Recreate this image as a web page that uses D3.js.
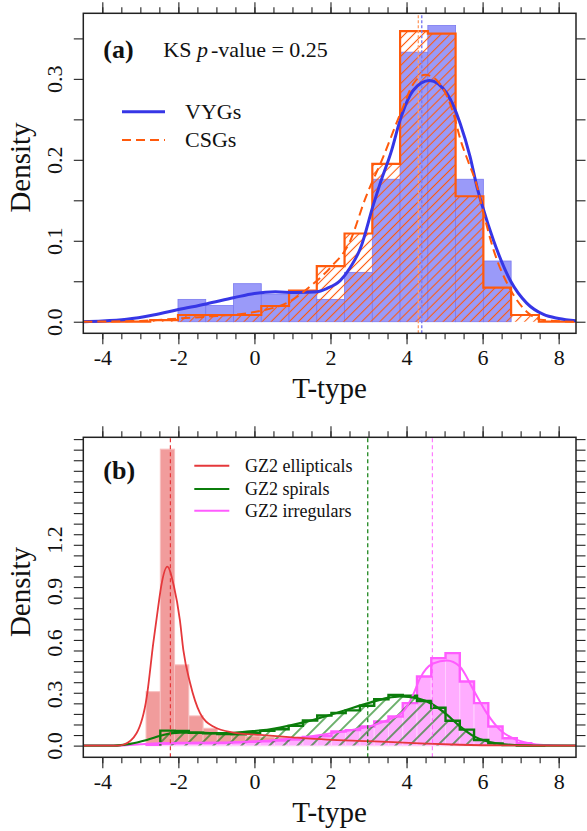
<!DOCTYPE html>
<html>
<head>
<meta charset="utf-8">
<script src="https://cdn.jsdelivr.net/npm/d3@7"></script>
<style>
  body { margin: 0; background: #fff; }
  svg text { font-family: "Liberation Serif", "Times New Roman", serif !important; fill: #111; }
</style>
</head>
<body>
<svg id="fig" width="587" height="831"></svg>
<script>
// ---------------- data ----------------
const tMajor = [-4, -2, 0, 2, 4, 6, 8];
const tMinor = d3.range(-4, 8.01, 0.5);

// Panel (a): VYGs vs CSGs
const binsA   = [-2.74, -2.01, -1.28, -0.55, 0.18, 0.91, 1.64, 2.37, 3.10, 3.83, 4.56, 5.29, 6.02, 6.75, 7.48];
const vygHist = [0, 0.0276, 0.020, 0.047, 0.034, 0.035, 0.0276, 0.061, 0.176, 0.333, 0.366, 0.176, 0.075, 0];
const csgHist = [0.002, 0.0083, 0.0083, 0.0083, 0.0194, 0.0383, 0.0688, 0.109, 0.195, 0.359, 0.356, 0.155, 0.042, 0.0083];
const vygKdeT = [-4.5, -4.0, -3.36, -2.66, -2.0, -1.27, -0.55, 0.0, 0.55, 1.07, 1.64, 1.9, 2.26, 2.52, 2.79, 3.13, 3.3, 3.61, 3.83, 4.18, 4.6, 5.06, 5.41, 5.67, 5.85, 6.0, 6.29, 6.74, 7.16, 7.6, 8.0, 8.5];
const vygKdeD = [0.0, 0.0008, 0.003, 0.0083, 0.015, 0.022, 0.0296, 0.035, 0.037, 0.036, 0.037, 0.041, 0.051, 0.067, 0.091, 0.145, 0.17, 0.212, 0.249, 0.286, 0.298, 0.282, 0.245, 0.204, 0.167, 0.142, 0.1, 0.05, 0.023, 0.009, 0.004, 0.001];
const csgKdeT = [-4.5, -3.0, -2.0, -1.0, 0.0, 1.0, 1.5, 2.0, 2.5, 2.93, 3.39, 3.87, 4.18, 4.49, 4.8, 5.2, 5.45, 5.62, 5.85, 6.02, 6.29, 6.74, 7.16, 7.6, 8.5];
const csgKdeD = [0.0, 0.001, 0.004, 0.007, 0.012, 0.027, 0.045, 0.067, 0.098, 0.154, 0.204, 0.261, 0.294, 0.305, 0.298, 0.262, 0.22, 0.198, 0.168, 0.135, 0.0885, 0.039, 0.0124, 0.002, 0.0];
const vygCentre = 4.40;
const csgCentre = 4.31;
const ksText = "0.25";

// Panel (b): Galaxy Zoo 2 classes
const binsB   = [-2.85, -2.475, -2.1, -1.725, -1.35, -0.975, -0.6, -0.225, 0.15, 0.525, 0.9, 1.275, 1.65, 2.025, 2.4, 2.775, 3.15, 3.525, 3.9, 4.275, 4.65, 5.025, 5.4, 5.775, 6.15, 6.525, 6.9, 7.275, 7.65];
const ellHist = [0.314, 1.725, 0.470, 0.173, 0.101, 0.075, 0.06, 0.055, 0.05, 0.045, 0.04, 0.04, 0.035, 0.03, 0.03, 0.025, 0.02, 0.02, 0.015, 0.01, 0.01, 0.005, 0.003, 0, 0, 0, 0, 0];
const spiHist = [0, 0.087, 0.085, 0.075, 0.072, 0.068, 0.066, 0.072, 0.086, 0.095, 0.115, 0.146, 0.175, 0.19, 0.205, 0.232, 0.27, 0.295, 0.29, 0.26, 0.22, 0.145, 0.093, 0.033, 0.013, 0.003, 0, 0];
const irrHist = [0.005, 0.012, 0.015, 0.015, 0.015, 0.016, 0.02, 0.022, 0.025, 0.03, 0.035, 0.05, 0.055, 0.082, 0.09, 0.111, 0.14, 0.169, 0.247, 0.402, 0.509, 0.538, 0.373, 0.247, 0.111, 0.043, 0.014, 0.003];
const ellKdeT = [-4.5, -3.6, -3.45, -3.1, -2.83, -2.66, -2.53, -2.45, -2.29, -2.12, -1.96, -1.87, -1.69, -1.43, -1.08, -0.555, 0.15, 1.0, 1.9, 3.0, 3.65, 4.5, 5.4, 6.5, 8.5];
const ellKdeD = [0, 0, 0.005, 0.072, 0.285, 0.596, 0.809, 0.93, 1.042, 0.93, 0.73, 0.557, 0.363, 0.189, 0.111, 0.076, 0.062, 0.048, 0.035, 0.026, 0.02, 0.012, 0.005, 0.001, 0];
const spiKdeT = [-4.5, -3.7, -3.27, -2.83, -2.4, -1.96, -1.5, -1.08, -0.6, -0.2, 0.41, 0.67, 1.29, 2.16, 3.04, 3.5, 3.83, 4.27, 4.7, 5.06, 5.4, 5.76, 6.11, 6.46, 6.9, 7.5, 8.5];
const spiKdeD = [0, 0, 0.01, 0.033, 0.062, 0.076, 0.075, 0.072, 0.073, 0.081, 0.095, 0.105, 0.135, 0.19, 0.25, 0.278, 0.287, 0.276, 0.238, 0.18, 0.113, 0.055, 0.025, 0.01, 0.003, 0, 0];
const irrKdeT = [-4.5, -3.5, -3.0, -2.5, -1.5, -0.5, 0.41, 1.29, 2.03, 2.6, 3.15, 3.52, 3.92, 4.18, 4.35, 4.7, 5.06, 5.4, 5.76, 6.11, 6.46, 6.9, 7.33, 7.72, 8.5];
const irrKdeD = [0, 0, 0.008, 0.014, 0.016, 0.02, 0.03, 0.049, 0.072, 0.093, 0.12, 0.15, 0.2, 0.3, 0.39, 0.478, 0.495, 0.46, 0.324, 0.189, 0.091, 0.033, 0.01, 0.003, 0];
const ellCentre = -2.21;
const spiCentre = 2.98;
const irrCentre = 4.68;
const legendB = ["GZ2 ellipticals", "GZ2 spirals", "GZ2 irregulars"];

// ---------------- styles ----------------
const SERIF = '"Liberation Serif", "Times New Roman", serif';
const C = {
  blueFill: "#9a9af9", blueEdge: "#7a7af0", blueLine: "#3636e6", blueV: "#7b7bf2",
  orange: "#ff5a0c", orangeV: "#ff9f6a",
  redFill: "#f19c9c", redEdge: "#f7c0c0", red: "#e5383b",
  green: "#0b7d0b",
  magFill: "#ffacff", magEdge: "#ffd0ff", mag: "#ff5cff"
};

const svg = d3.select("#fig").style("font-family", SERIF);
const defs = svg.append("defs");

function hatch(id, color, spacing, width) {
  defs.append("pattern")
    .attr("id", id)
    .attr("patternUnits", "userSpaceOnUse")
    .attr("width", spacing).attr("height", 20)
    .attr("patternTransform", "rotate(45)")
    .append("line")
    .attr("x1", spacing / 2).attr("x2", spacing / 2)
    .attr("y1", 0).attr("y2", 20)
    .attr("stroke", color).attr("stroke-width", width);
}
hatch("hatchOrange", C.orange, 6.4, 1.1);
hatch("hatchGreen", C.green, 9.9, 1.2);

const box = { left: 83.3, right: 576 };
const panels = {
  a: { top: 13.3, bottom: 333.3, yDomain: [-0.0143, 0.381] },
  b: { top: 437.3, bottom: 757.3, yDomain: [-0.068, 1.794] }
};

const x = d3.scaleLinear().domain([-4.5, 8.456]).range([box.left, box.right]);

function makeY(p) {
  return d3.scaleLinear().domain(p.yDomain).range([p.bottom, p.top]);
}

function clipFor(id, p) {
  defs.append("clipPath").attr("id", id)
    .append("rect")
    .attr("x", box.left).attr("y", p.top)
    .attr("width", box.right - box.left).attr("height", p.bottom - p.top);
}

// histogram bars as rectangles
function bars(g, y, edges, vals, fill, stroke, sw) {
  g.append("g").selectAll("rect")
    .data(vals.map((v, i) => ({ x0: edges[i], x1: edges[i + 1], v })).filter(d => d.v > 0))
    .join("rect")
    .attr("x", d => x(d.x0))
    .attr("width", d => x(d.x1) - x(d.x0))
    .attr("y", d => y(d.v))
    .attr("height", d => y(0) - y(d.v))
    .attr("fill", fill)
    .attr("stroke", stroke || "none")
    .attr("stroke-width", sw || 0);
}

// outer outline of a histogram as a single step path
function stepPath(y, edges, vals, extendFrom, extendTo) {
  const p = d3.path();
  if (extendFrom !== undefined) { p.moveTo(x(extendFrom), y(0)); p.lineTo(x(edges[0]), y(0)); }
  else p.moveTo(x(edges[0]), y(0));
  vals.forEach((v, i) => {
    p.lineTo(x(edges[i]), y(v));
    p.lineTo(x(edges[i + 1]), y(v));
  });
  p.lineTo(x(edges[edges.length - 1]), y(0));
  if (extendTo !== undefined) p.lineTo(x(extendTo), y(0));
  return p.toString();
}

function curve(g, y, ts, ds, color, width, dash) {
  const line = d3.line()
    .x((d, i) => x(ts[i]))
    .y((d, i) => y(ds[i]))
    .curve(d3.curveMonotoneX);
  g.append("path")
    .attr("d", line(ts))
    .attr("fill", "none")
    .attr("stroke", color)
    .attr("stroke-width", width)
    .attr("stroke-linejoin", "round")
    .attr("stroke-dasharray", dash || null);
}

function vline(g, y, t, color, width, dash, opacity) {
  g.append("line")
    .attr("x1", x(t)).attr("x2", x(t))
    .attr("y1", y.range()[0]).attr("y2", y.range()[1])
    .attr("stroke", color).attr("stroke-width", width)
    .attr("stroke-dasharray", dash).attr("opacity", opacity || 1);
}

function axes(p, y, yMajor, yMinor, fmt) {
  const g = svg.append("g");
  const strip = a => a.call(s => s.select(".domain").remove())
                       .call(s => s.selectAll("line").attr("stroke", "#222").attr("stroke-width", 1.1));
  const serif = s => s.attr("font-family", SERIF).style("font-family", SERIF);
  // bottom
  g.append("g").attr("transform", `translate(0,${p.bottom})`)
    .call(d3.axisBottom(x).tickValues(tMinor).tickSize(6).tickFormat("")).call(strip);
  const xb = g.append("g").attr("transform", `translate(0,${p.bottom})`)
    .call(d3.axisBottom(x).tickValues(tMajor).tickSize(11).tickPadding(5).tickFormat(d => String(d))).call(strip);
  xb.call(serif);
  xb.selectAll("text").attr("font-size", 22).style("font-family", SERIF).attr("fill", "#111");
  // top
  g.append("g").attr("transform", `translate(0,${p.top})`)
    .call(d3.axisTop(x).tickValues(tMinor).tickSize(6).tickFormat("")).call(strip);
  g.append("g").attr("transform", `translate(0,${p.top})`)
    .call(d3.axisTop(x).tickValues(tMajor).tickSize(11).tickFormat("")).call(strip);
  // left
  g.append("g").attr("transform", `translate(${box.left},0)`)
    .call(d3.axisLeft(y).tickValues(yMinor).tickSize(9.5).tickFormat("")).call(strip);
  const yl = g.append("g").attr("transform", `translate(${box.left},0)`)
    .call(d3.axisLeft(y).tickValues(yMajor).tickSize(0).tickFormat(fmt)).call(strip);
  yl.call(serif);
  yl.selectAll("text")
    .attr("font-size", 22).style("font-family", SERIF).attr("fill", "#111")
    .attr("text-anchor", "middle").attr("x", null).attr("dy", null)
    .attr("transform", "translate(-21.8,0) rotate(-90)");
  // right
  g.append("g").attr("transform", `translate(${box.right},0)`)
    .call(d3.axisRight(y).tickValues(yMinor).tickSize(9.5).tickFormat("")).call(strip);
  // frame
  g.append("rect")
    .attr("x", box.left).attr("y", p.top)
    .attr("width", box.right - box.left).attr("height", p.bottom - p.top)
    .attr("fill", "none").attr("stroke", "#222").attr("stroke-width", 1.5);
  return g;
}

function titles(p, yLabelCentre) {
  svg.append("text")
    .attr("x", (box.left + box.right) / 2).attr("y", p.bottom + 65)
    .attr("text-anchor", "middle").attr("font-size", 29).text("T-type");
  svg.append("text")
    .attr("transform", `translate(30,${yLabelCentre}) rotate(-90)`)
    .attr("text-anchor", "middle").attr("font-size", 29).text("Density");
}

// ---------------- panel (a) ----------------
{
  const p = panels.a;
  const y = makeY(p);
  clipFor("clipA", p);
  const g = svg.append("g").attr("clip-path", "url(#clipA)");

  bars(g, y, binsA, vygHist, C.blueFill, C.blueEdge, 0.8);
  // CSG hatched histogram
  g.append("path").attr("d", stepPath(y, binsA, csgHist)).attr("fill", "url(#hatchOrange)");
  g.append("path").attr("d", stepPath(y, binsA, csgHist, -4.5, 8.5))
    .attr("fill", "none").attr("stroke", C.orange).attr("stroke-width", 2.2).attr("stroke-linejoin", "miter");

  vline(g, y, csgCentre, C.orangeV, 1.4, "3,2");
  vline(g, y, vygCentre, C.blueV, 1.4, "3,2");

  curve(g, y, vygKdeT, vygKdeD, C.blueLine, 3);
  curve(g, y, csgKdeT, csgKdeD, C.orange, 2, "9,5");

  const fmt = d3.format(".1f");
  axes(p, y, [0, 0.1, 0.2, 0.3], d3.range(0, 0.351, 0.05), fmt);
  titles(p, 167.5);

  svg.append("text").attr("x", 103.3).attr("y", 57.5)
    .attr("font-size", 26).attr("font-weight", "bold").text("(a)");
  const ks = svg.append("text").attr("x", 163.3).attr("y", 57.3).attr("font-size", 22);
  ks.append("tspan").text("KS ");
  ks.append("tspan").attr("font-style", "italic").text("p");
  ks.append("tspan").attr("dx", 3).text("-value = " + ksText);

  // legend
  const lg = svg.append("g");
  lg.append("line").attr("x1", 122).attr("x2", 165).attr("y1", 111.7).attr("y2", 111.7)
    .attr("stroke", C.blueLine).attr("stroke-width", 3);
  lg.append("text").attr("x", 185).attr("y", 118.8).attr("font-size", 22).text("VYGs");
  lg.append("line").attr("x1", 122).attr("x2", 165).attr("y1", 140).attr("y2", 140)
    .attr("stroke", C.orange).attr("stroke-width", 2).attr("stroke-dasharray", "9,5");
  lg.append("text").attr("x", 185).attr("y", 147).attr("font-size", 22).text("CSGs");
}

// ---------------- panel (b) ----------------
{
  const p = panels.b;
  const y = makeY(p);
  clipFor("clipB", p);
  const g = svg.append("g").attr("clip-path", "url(#clipB)");

  bars(g, y, binsB, ellHist, C.redFill, C.redEdge, 1);
  bars(g, y, binsB, irrHist, C.magFill, C.magEdge, 1);
  g.append("path").attr("d", stepPath(y, binsB, irrHist))
    .attr("fill", "none").attr("stroke", C.mag).attr("stroke-width", 2.4);
  g.append("path").attr("d", stepPath(y, binsB.slice(1), spiHist.slice(1))).attr("fill", "url(#hatchGreen)");
  g.append("path").attr("d", stepPath(y, binsB.slice(1), spiHist.slice(1)))
    .attr("fill", "none").attr("stroke", C.green).attr("stroke-width", 2.4);

  curve(g, y, irrKdeT, irrKdeD, C.mag, 2);
  curve(g, y, spiKdeT, spiKdeD, C.green, 2.2);
  curve(g, y, ellKdeT, ellKdeD, C.red, 1.8);

  vline(g, y, ellCentre, C.red, 1.2, "4,3");
  vline(g, y, spiCentre, C.green, 1.2, "4,3");
  vline(g, y, irrCentre, C.mag, 1.2, "4,3", 0.8);

  axes(p, y, [0, 0.3, 0.6, 0.9, 1.2], d3.range(0, 1.79, 0.0615), d3.format(".1f"));
  titles(p, 592);

  svg.append("text").attr("x", 103.3).attr("y", 479)
    .attr("font-size", 26).attr("font-weight", "bold").text("(b)");

  const cols = [C.red, C.green, C.mag];
  const ys = [465.7, 489, 510.7];
  const lg = svg.append("g");
  legendB.forEach((name, i) => {
    lg.append("line").attr("x1", 194.3).attr("x2", 229.3).attr("y1", ys[i]).attr("y2", ys[i])
      .attr("stroke", cols[i]).attr("stroke-width", 2);
    lg.append("text").attr("x", 245).attr("y", ys[i] + 6).attr("font-size", 18).text(name);
  });
}
</script>
</body>
</html>
